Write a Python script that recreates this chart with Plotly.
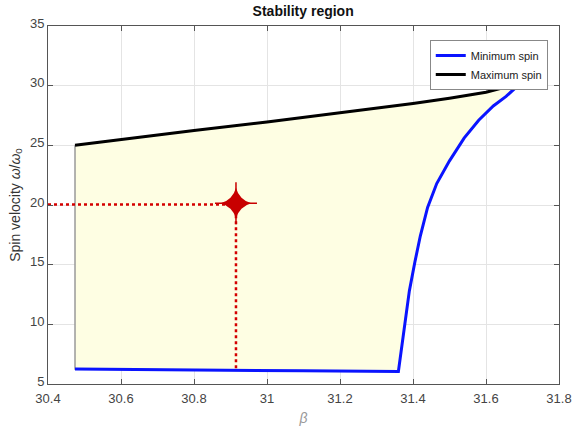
import plotly.graph_objects as go

# data
max_beta = [30.474, 30.6, 30.8, 31.0, 31.2, 31.3, 31.4, 31.5, 31.6, 31.682]
max_spin = [25.0, 25.5, 26.25, 26.95, 27.7, 28.1, 28.5, 28.95, 29.45, 30.1]
min_beta = [30.474, 30.8, 31.1, 31.36, 31.39, 31.405, 31.42, 31.44, 31.465, 31.5, 31.54, 31.58, 31.62, 31.655, 31.68]
min_spin = [6.25, 6.15, 6.1, 6.05, 12.8, 15.2, 17.4, 19.8, 21.8, 23.7, 25.6, 27.1, 28.3, 29.1, 29.8]
op_beta = [30.915]
op_spin = [20.15]
x_ticks = [30.4, 30.6, 30.8, 31.0, 31.2, 31.4, 31.6, 31.8]
x_tick_labels = ["30.4", "30.6", "30.8", "31", "31.2", "31.4", "31.6", "31.8"]
y_ticks = [5, 10, 15, 20, 25, 30, 35]

FONT = "Liberation Sans Narrow, Arial Narrow, Liberation Sans, sans-serif"
RED = "#c80000"

fig = go.Figure()

poly_x = max_beta + min_beta[::-1] + [max_beta[0]]
poly_y = max_spin + min_spin[::-1] + [max_spin[0]]
fig.add_trace(go.Scatter(x=poly_x, y=poly_y, fill="toself", fillcolor="#fefee3",
                         line=dict(color="#9a9a9a", width=1.5), mode="lines",
                         showlegend=False, hoverinfo="skip"))

fig.add_trace(go.Scatter(x=[x_ticks[0], op_beta[0]], y=[op_spin[0] - 0.1, op_spin[0] - 0.1], mode="lines",
                         line=dict(color="#d40000", width=2.5, dash="dot"), showlegend=False))
fig.add_trace(go.Scatter(x=[op_beta[0], op_beta[0]], y=[op_spin[0], min_spin[0] + 0.05], mode="lines",
                         line=dict(color="#d40000", width=2.5, dash="dot"), showlegend=False))

fig.add_trace(go.Scatter(x=min_beta, y=min_spin, mode="lines", name="Minimum spin",
                         line=dict(color="#0a14ff", width=3)))
fig.add_trace(go.Scatter(x=max_beta, y=max_spin, mode="lines", name="Maximum spin",
                         line=dict(color="#000000", width=3)))

fig.add_trace(go.Scatter(x=op_beta, y=op_spin, mode="markers", showlegend=False,
                         marker=dict(symbol="cross-thin", size=30, color=RED,
                                     line=dict(width=1.5, color=RED))))
fig.add_trace(go.Scatter(x=op_beta, y=op_spin, mode="markers", showlegend=False,
                         marker=dict(symbol="star-diamond", size=22, color=RED,
                                     line=dict(width=0))))

axis_common = dict(showline=True, linecolor="#555555", linewidth=1, mirror="ticks",
                   ticks="inside", ticklen=5, tickcolor="#555555", automargin=False,
                   showgrid=True, gridcolor="#e4e4e4", gridwidth=1, zeroline=False,
                   tickfont=dict(family=FONT, size=13, color="#444444"))

fig.update_layout(
    width=572, height=435,
    margin=dict(l=48, r=13, t=26, b=51),
    paper_bgcolor="white", plot_bgcolor="white",
    title=dict(text="<b>Stability region</b>", x=0.53, xanchor="center", y=0.985, yanchor="top",
               font=dict(family=FONT, size=14, color="#111111")),
    xaxis=dict(range=[30.4, 31.8], tickvals=x_ticks, ticktext=x_tick_labels, ticklabelstandoff=2,
               title=dict(text="<i>β</i>", font=dict(family=FONT, size=14, color="#999999"), standoff=8),
               **axis_common),
    yaxis=dict(range=[5, 35], tickvals=y_ticks, ticklabelshift=-3,
               title=dict(text="Spin velocity <i>ω</i>/<i>ω</i><sub>0</sub>",
                          font=dict(family=FONT, size=14, color="#333333"), standoff=6),
               **axis_common),
    legend=dict(x=0.978, y=0.961, xanchor="right", yanchor="top",
                bgcolor="white", bordercolor="#888888", borderwidth=1,
                font=dict(family=FONT, size=11, color="#222222"),
                itemwidth=30, tracegroupgap=0),
)

fig.write_html("out.html")
